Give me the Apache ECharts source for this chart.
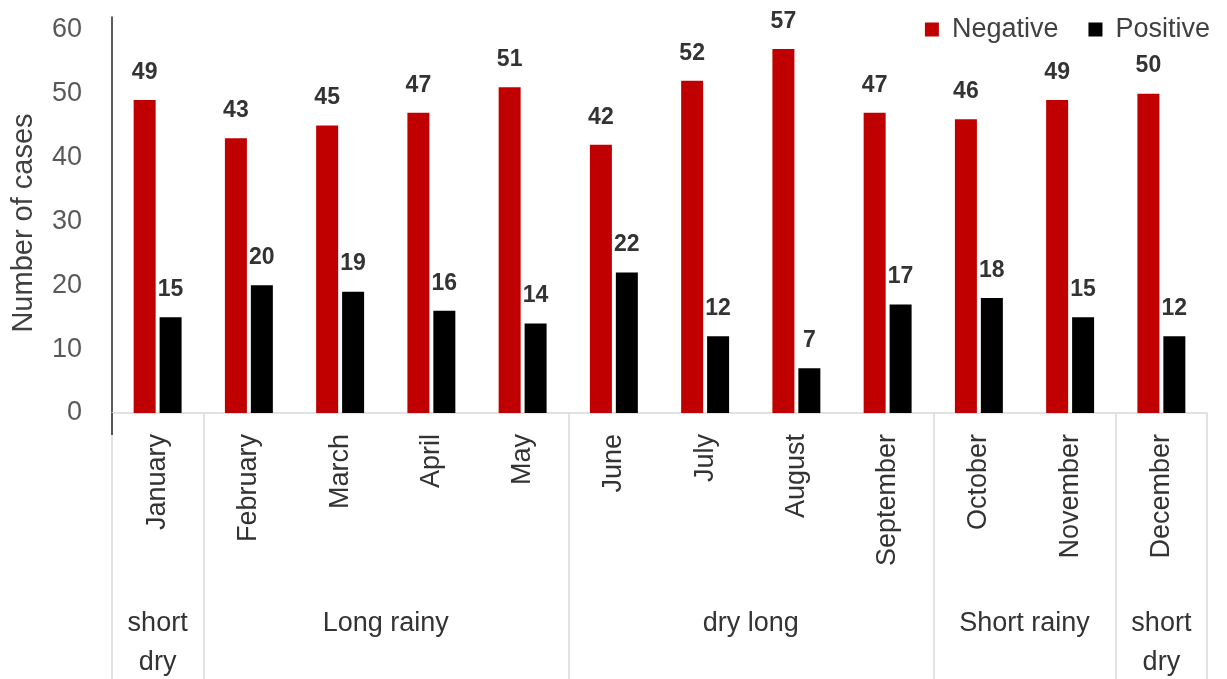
<!DOCTYPE html>
<html>
<head>
<meta charset="utf-8">
<script src="https://cdn.jsdelivr.net/npm/echarts@6/dist/echarts.min.js"></script>
<style>
  html, body { margin: 0; padding: 0; background: #fff; }
  #chart { width: 1227px; height: 679px; }
</style>
</head>
<body>
<div id="chart"></div>
<script>
const months = ["January", "February", "March", "April", "May", "June", "July",
  "August", "September", "October", "November", "December"];
const negative = [49, 43, 45, 47, 51, 42, 52, 57, 47, 46, 49, 50];
const positive = [15, 20, 19, 16, 14, 22, 12, 7, 17, 18, 15, 12];

// seasons: label, number of months in each
const seasonNames = ["short\ndry", "Long rainy", "dry long", "Short rainy", "short\ndry"];
const seasonSpans = [1, 4, 4, 2, 1];

const yTicks = [0, 10, 20, 30, 40, 50, 60];

// borders and centres of the season groups, in month units
const seasonEdges = [0];
seasonSpans.forEach((n) => seasonEdges.push(seasonEdges[seasonEdges.length - 1] + n));
const seasonMids = seasonSpans.map((n, i) => seasonEdges[i] + n / 2);

const FONT = "Liberation Sans";

const chart = echarts.init(document.getElementById("chart"));
chart.setOption({
  animation: false,
  textStyle: { fontFamily: FONT },
  grid: { left: 112, right: 20, top: 17, bottom: 266, outerBoundsMode: "none" },
  legend: {
    right: 12,
    top: 11,
    itemWidth: 14,
    itemHeight: 14,
    itemGap: 30,
    icon: "rect",
    textStyle: { fontSize: 27, color: "#404040", fontFamily: FONT, padding: [0, 0, 0, 8] },
    data: ["Negative", "Positive"],
  },
  xAxis: [
    {
      type: "category",
      data: months,
      axisLine: { lineStyle: { color: "#d9d9d9", width: 1.5 } },
      axisTick: { show: false },
      axisLabel: { rotate: 90, margin: 21, fontSize: 27, color: "#333333", interval: 0 },
      splitLine: { show: false },
    },
    {
      // season groups underneath the months
      type: "value",
      min: 0,
      max: 12,
      position: "bottom",
      axisLine: { show: false },
      splitLine: { show: false },
      axisTick: {
        show: true,
        customValues: seasonEdges,
        length: 266,
        lineStyle: { color: "#d9d9d9", width: 1.5 },
      },
      axisLabel: {
        customValues: seasonMids,
        margin: 191,
        fontSize: 27,
        lineHeight: 39,
        color: "#333333",
        formatter: (v) => seasonNames[seasonMids.indexOf(v)],
      },
    },
    {
      // short stub of the value axis below zero
      type: "value",
      min: 0,
      max: 12,
      position: "bottom",
      axisLine: { show: false },
      splitLine: { show: false },
      axisLabel: { show: false },
      axisTick: {
        show: true,
        customValues: [0],
        length: 22,
        lineStyle: { color: "#262626", width: 1.5 },
      },
    },
  ],
  yAxis: {
    type: "value",
    min: 0,
    max: 62,
    interval: 10,
    name: "Number of cases",
    nameLocation: "middle",
    nameGap: 74,
    nameTextStyle: { fontSize: 29, color: "#404040", padding: [0, 16, 0, 0] },
    axisLine: { show: true, lineStyle: { color: "#262626", width: 1.5 } },
    axisTick: { show: false },
    splitLine: { show: false },
    axisLabel: {
      margin: 30,
      fontSize: 27,
      color: "#595959",
      padding: [5, 0, 0, 0],
      showMaxLabel: false,
      formatter: (v) => (yTicks.includes(v) ? String(v) : ""),
    },
  },
  series: [
    {
      name: "Negative",
      type: "bar",
      data: negative,
      barWidth: 22,
      barGap: "18%",
      itemStyle: { color: "#c00000" },
      label: { show: true, position: "top", distance: 16, fontSize: 23, fontWeight: "bold", color: "#333333" },
    },
    {
      name: "Positive",
      type: "bar",
      data: positive,
      barWidth: 22,
      itemStyle: { color: "#000000" },
      label: { show: true, position: "top", distance: 16, fontSize: 23, fontWeight: "bold", color: "#333333" },
    },
  ],
});
</script>
</body>
</html>
